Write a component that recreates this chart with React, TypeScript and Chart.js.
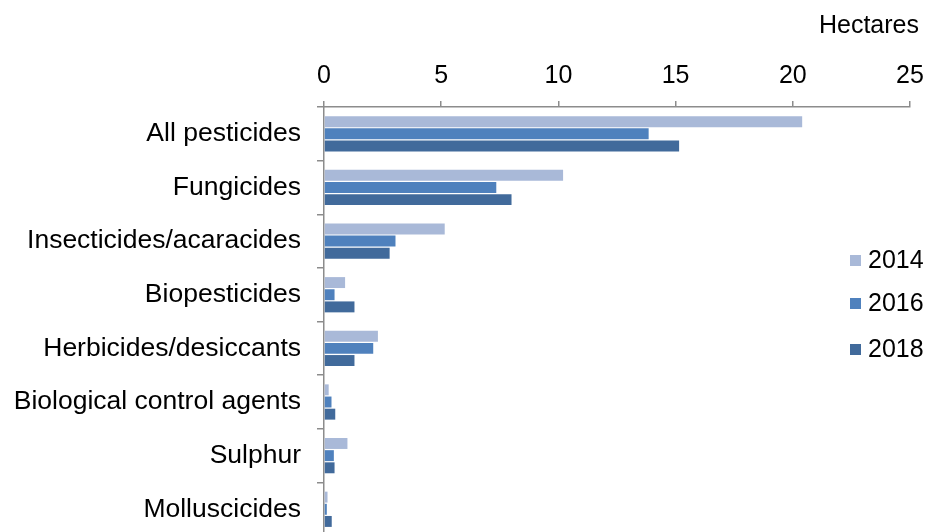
import React, { useEffect, useRef } from "react";
import { Chart, registerables } from "chart.js";

Chart.register(...registerables);

const categories = [
  "All pesticides",
  "Fungicides",
  "Insecticides/acaracides",
  "Biopesticides",
  "Herbicides/desiccants",
  "Biological control agents",
  "Sulphur",
  "Molluscicides",
];
const seriesLabels = ["2014", "2016", "2018"];
const values2014 = [20.4, 10.2, 5.15, 0.9, 2.3, 0.2, 1.0, 0.15];
const values2016 = [13.85, 7.35, 3.05, 0.45, 2.1, 0.32, 0.42, 0.12];
const values2018 = [15.15, 8.0, 2.8, 1.3, 1.3, 0.48, 0.45, 0.33];
const xTicks = [0, 5, 10, 15, 20, 25];
const colors = ["#A9B9D8", "#4F81BD", "#416A9B"];
const unitLabel = "Hectares";

const FONT = "'Liberation Sans', Arial, sans-serif";

const legendPlugin = {
  id: "customLegend",
  afterDraw(chart: any) {
    const ctx = chart.ctx;
    ctx.save();
    ctx.font = `25px ${FONT}`;
    ctx.fillStyle = "#000";
    ctx.textBaseline = "middle";
    ctx.textAlign = "right";
    ctx.fillText(unitLabel, 919, 26);
    ctx.textAlign = "left";
    const ys = [261, 304, 350];
    chart.data.datasets.forEach((ds: any, i: number) => {
      const y = ys[i];
      ctx.fillStyle = ds.backgroundColor;
      ctx.fillRect(850, y - 6, 11, 11);
      ctx.fillStyle = "#000";
      ctx.fillText(ds.label, 868, y);
    });
    ctx.restore();
  },
};

export default function App() {
  const ref = useRef<HTMLCanvasElement | null>(null);
  useEffect(() => {
    document.body.style.margin = "0";
    const series = [values2014, values2016, values2018];
    const chart = new Chart(ref.current as HTMLCanvasElement, {
      type: "bar",
      data: {
        labels: categories,
        datasets: series.map((vals, i) => ({
          label: seriesLabels[i],
          data: vals,
          backgroundColor: colors[i],
          borderColor: "#ffffff",
          borderWidth: 0,
          barPercentage: 0.9,
          categoryPercentage: 0.68,
        })),
      },
      options: {
        indexAxis: "y",
        animation: false,
        responsive: false,
        maintainAspectRatio: false,
        layout: { padding: { left: 0, right: 20, top: 0, bottom: 5 } },
        plugins: {
          legend: { display: false },
          tooltip: { enabled: false },
        },
        scales: {
          x: {
            position: "top",
            min: 0,
            max: 25,
            afterBuildTicks: (scale: any) => {
              scale.ticks = xTicks.map((v) => ({ value: v }));
            },
            afterFit: (scale: any) => {
              scale.height = 107;
              scale.paddingRight = 0;
              scale.paddingLeft = 0;
            },
            ticks: {
              font: { family: FONT, size: 25 },
              color: "#000",
              padding: 10,
            },
            grid: {
              drawOnChartArea: false,
              tickLength: 6,
              color: "#8c8c8c",
              lineWidth: 1.5,
            },
            border: { color: "#8c8c8c", width: 1.5 },
          },
          y: {
            afterFit: (scale: any) => {
              scale.width = 324;
            },
            ticks: {
              font: { family: FONT, size: 26.5 },
              color: "#000",
              padding: 16,
              autoSkip: false,
            },
            grid: {
              offset: true,
              drawOnChartArea: false,
              tickLength: 7,
              color: "#8c8c8c",
              lineWidth: 1.5,
            },
            border: { color: "#8c8c8c", width: 1.5 },
          },
        },
      },
      plugins: [legendPlugin],
    } as any);
    return () => chart.destroy();
  }, []);
  return (
    <div style={{ width: 930, height: 568, overflow: "hidden" }}>
      <canvas ref={ref} width={930} height={568} style={{ display: "block" }} />
    </div>
  );
}
